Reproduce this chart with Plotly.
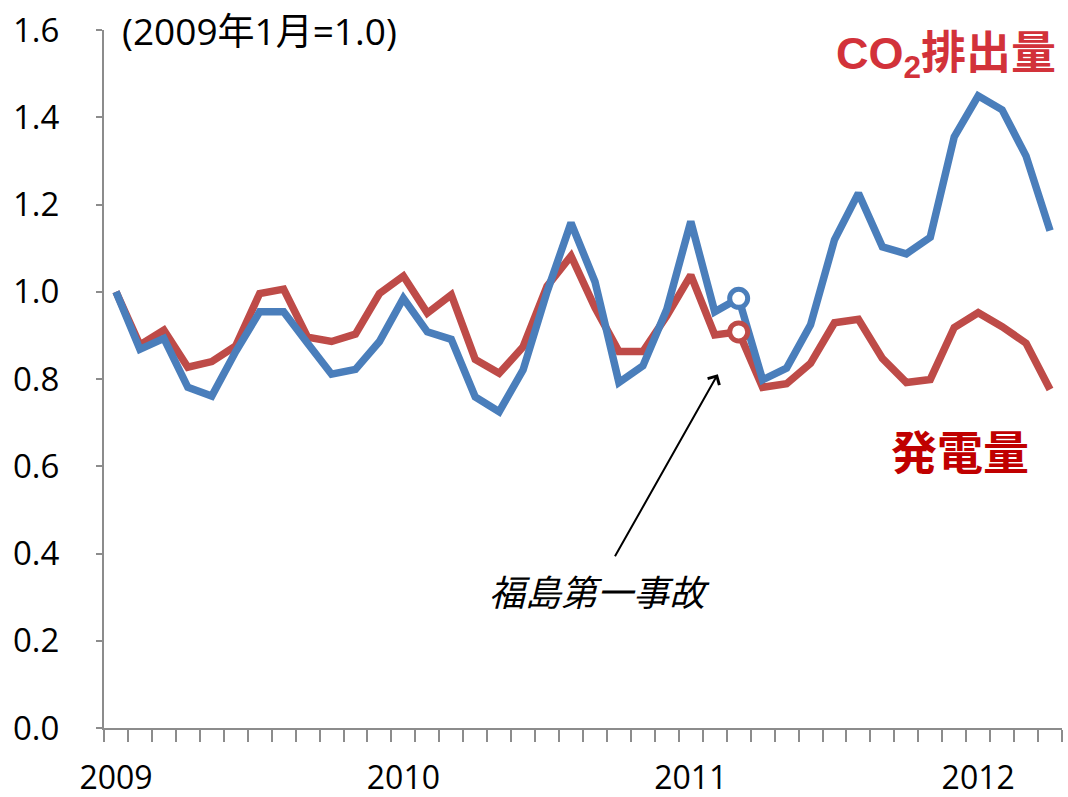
import plotly.graph_objects as go

# Monthly index, Jan 2009 = 1.0 (Jan 2009 .. Apr 2012)
months = list(range(40))
year_ticks = [0, 12, 24, 36]
year_labels = ["2009", "2010", "2011", "2012"]

co2 = [1.000, 0.868, 0.893, 0.781, 0.761, 0.863, 0.954, 0.954, 0.882, 0.811,
       0.822, 0.886, 0.985, 0.908, 0.891, 0.759, 0.725, 0.821, 1.000, 1.158,
       1.023, 0.792, 0.830, 0.960, 1.161, 0.954, 0.985, 0.798, 0.825, 0.924,
       1.119, 1.226, 1.103, 1.087, 1.125, 1.355, 1.449, 1.417, 1.311, 1.140]

power = [1.000, 0.878, 0.912, 0.827, 0.840, 0.876, 0.996, 1.006, 0.896, 0.886,
         0.903, 0.996, 1.036, 0.951, 0.993, 0.845, 0.813, 0.874, 1.013, 1.082,
         0.964, 0.863, 0.863, 0.945, 1.038, 0.901, 0.908, 0.781, 0.789, 0.836,
         0.929, 0.937, 0.847, 0.792, 0.799, 0.918, 0.952, 0.920, 0.882, 0.776]

accident_idx = 26  # March 2011

BLUE = "#4A7EBB"
RED = "#BE4B48"
AXIS = "#8C8C8C"
FONT = "Open Sans, Noto Sans CJK JP, sans-serif"
JP_FONT = "Noto Sans CJK JP, sans-serif"
BOLD_FONT = "Liberation Sans, Noto Sans CJK JP, sans-serif"

fig = go.Figure()

fig.add_trace(go.Scatter(x=months, y=power, mode="lines",
                         line=dict(color=RED, width=7.5), hoverinfo="skip"))
fig.add_trace(go.Scatter(x=months, y=co2, mode="lines",
                         line=dict(color=BLUE, width=7.5), hoverinfo="skip"))

# open circle markers at the accident month
for series, colour in ((co2, BLUE), (power, RED)):
    fig.add_trace(go.Scatter(x=[accident_idx], y=[series[accident_idx]],
                             mode="markers",
                             marker=dict(size=18, color="white",
                                         line=dict(color=colour, width=5)),
                             hoverinfo="skip"))

boundaries = [m - 0.5 for m in range(41)]

fig.update_xaxes(
    range=[-0.5, 39.5], automargin=False,
    tickvals=year_ticks, ticktext=year_labels,
    ticks="", ticklabelstandoff=21,
    minor=dict(tickvals=boundaries, ticks="outside", ticklen=12,
               tickwidth=2, tickcolor=AXIS),
    showline=True, linecolor=AXIS, linewidth=2,
    showgrid=False, zeroline=False,
    tickfont=dict(size=32, color="black", family=FONT),
)
fig.update_yaxes(
    range=[0, 1.6], dtick=0.2, tickformat=".1f", automargin=False,
    ticks="outside", ticklen=6, tickwidth=2, tickcolor=AXIS,
    ticklabelstandoff=30,
    showline=True, linecolor=AXIS, linewidth=2,
    showgrid=False, zeroline=False,
    tickfont=dict(size=33, color="black", family=FONT),
)

fig.add_annotation(x=0.0, xref="x", y=1.6, yref="y", xshift=4,
                   text="(2009年1月=1.0)", showarrow=False,
                   xanchor="left", yanchor="middle",
                   font=dict(size=37, color="black", family=FONT))
fig.add_annotation(x=1.0, xref="paper", y=1.54, yref="y", xshift=-4,
                   text="<b>CO<sub>2</sub>排出量</b>", showarrow=False,
                   xanchor="right", yanchor="middle",
                   font=dict(size=45, color="#D2323A", family=BOLD_FONT))
fig.add_annotation(x=38.2, xref="x", y=0.64, yref="y",
                   text="<b>発電量</b>", showarrow=False,
                   xanchor="right", yanchor="middle",
                   font=dict(size=46, color="#C00000", family=JP_FONT))
fig.add_annotation(x=25.13, xref="x", y=0.811, yref="y",
                   ax=20.8, axref="x", ay=0.39, ayref="y",
                   text="", showarrow=True, arrowhead=4, arrowsize=1.3,
                   arrowwidth=2, arrowcolor="black")
fig.add_annotation(x=20.2, xref="x", y=0.316, yref="y",
                   text="<i>福島第一事故</i>", showarrow=False,
                   xanchor="center", yanchor="middle",
                   font=dict(size=36, color="black", family=JP_FONT))

fig.update_layout(
    width=1068, height=797,
    margin=dict(l=104, r=6, t=30, b=69),
    plot_bgcolor="white", paper_bgcolor="white",
    showlegend=False,
)

fig.write_html("out.html")
